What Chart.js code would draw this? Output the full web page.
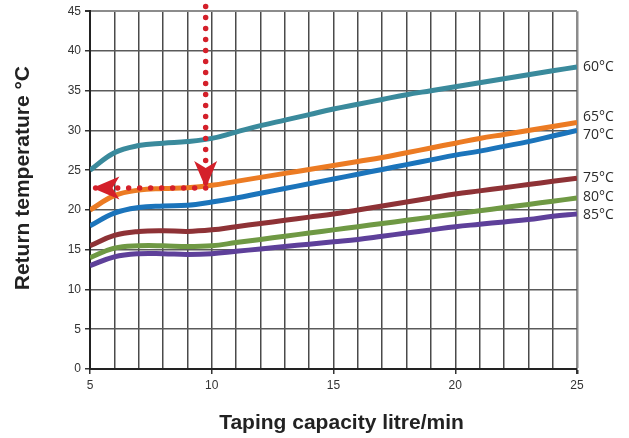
<!DOCTYPE html>
<html>
<head>
<meta charset="utf-8">
<script src="https://cdn.jsdelivr.net/npm/chart.js@4.4.1/dist/chart.umd.min.js"></script>
<style>
  html, body { margin: 0; padding: 0; background: #ffffff; }
  #wrap { width: 629px; height: 438px; }
</style>
</head>
<body>
<div id="wrap"><canvas id="chart" width="629" height="438"></canvas></div>
<script>
// Tapping capacity (litre/min) on the horizontal axis
const capacity = [5, 6, 7, 8, 9, 10, 11, 12, 13, 14, 15, 16, 17, 18, 19, 20, 21, 22, 23, 24, 25];

// Return temperature (°C) for each supply temperature curve
const ret60 = [25.0, 27.2, 28.1, 28.4, 28.6, 29.0, 29.8, 30.6, 31.3, 32.0, 32.7, 33.3, 33.9, 34.5, 35.0, 35.5, 36.0, 36.5, 37.0, 37.5, 38.0];
const ret65 = [20.0, 21.8, 22.5, 22.7, 22.8, 23.1, 23.6, 24.1, 24.6, 25.1, 25.6, 26.1, 26.6, 27.2, 27.8, 28.4, 29.0, 29.5, 30.0, 30.5, 31.0];
const ret70 = [18.0, 19.6, 20.3, 20.5, 20.6, 21.0, 21.5, 22.1, 22.7, 23.3, 23.9, 24.5, 25.1, 25.7, 26.3, 26.9, 27.4, 28.0, 28.6, 29.3, 30.0];
const ret75 = [15.5, 16.8, 17.3, 17.4, 17.3, 17.5, 17.9, 18.3, 18.7, 19.1, 19.5, 20.0, 20.5, 21.0, 21.5, 22.0, 22.4, 22.8, 23.2, 23.6, 24.0];
const ret80 = [14.0, 15.2, 15.5, 15.5, 15.4, 15.5, 15.9, 16.3, 16.7, 17.1, 17.5, 17.9, 18.3, 18.7, 19.1, 19.5, 19.9, 20.3, 20.7, 21.1, 21.5];
const ret85 = [13.0, 14.1, 14.5, 14.5, 14.4, 14.5, 14.8, 15.1, 15.4, 15.7, 16.0, 16.3, 16.7, 17.1, 17.5, 17.9, 18.2, 18.5, 18.8, 19.2, 19.5];

const curveLabels = ['60°C', '65°C', '70°C', '75°C', '80°C', '85°C'];
const curveValues = [ret60, ret65, ret70, ret75, ret80, ret85];
const curveColors = ['#3a8a9c', '#ec7b23', '#1b74bb', '#8e3236', '#6f9944', '#5e409a'];

// Reading example: 10 l/min down to the 65°C curve, then across to the axis
const readDownX = [9.75, 9.75];
const readDownY = [45.6, 22.75];
const readAcrossX = [9.75, 5.1];
const readAcrossY = [22.75, 22.75];

// Axis ranges and tick labels
const xTickLabels = [5, 10, 15, 20, 25];
const yTickLabels = [0, 5, 10, 15, 20, 25, 30, 35, 40, 45];

const axisTitleX = 'Taping capacity litre/min';
const axisTitleY = 'Return temperature °C';

const toPoints = (xs, ys) => xs.map((x, i) => ({ x: x, y: ys[i] }));

const guideColor = '#d4202a';
const guideSets = [
  { data: toPoints(readDownX, readDownY) },
  { data: toPoints(readAcrossX, readAcrossY) }
].map(g => Object.assign(g, {
  isGuide: true,
  borderColor: guideColor,
  borderWidth: 5.5,
  borderDash: [0, 11],
  borderCapStyle: 'round',
  pointRadius: 0,
  tension: 0,
  clip: false
}));

const curveSets = curveValues.map((vals, i) => ({
  label: curveLabels[i],
  data: toPoints(capacity, vals),
  borderColor: curveColors[i],
  borderWidth: 5,
  pointRadius: 0,
  tension: 0.4,
  borderCapStyle: 'butt'
}));

// Arrowheads at the end of each reading guide
const arrowPlugin = {
  id: 'arrowHeads',
  afterDatasetsDraw(chart) {
    const ctx = chart.ctx;
    chart.data.datasets.forEach((ds, i) => {
      if (!ds.isGuide) return;
      const pts = chart.getDatasetMeta(i).data;
      const tip = pts[pts.length - 1];
      const prev = pts[pts.length - 2];
      const ang = Math.atan2(tip.y - prev.y, tip.x - prev.x);
      const len = 27, half = 11.5, notch = 7;
      ctx.save();
      ctx.translate(tip.x, tip.y);
      ctx.rotate(ang);
      ctx.beginPath();
      ctx.moveTo(0, 0);
      ctx.lineTo(-len, -half);
      ctx.lineTo(-len + notch, 0);
      ctx.lineTo(-len, half);
      ctx.closePath();
      ctx.fillStyle = guideColor;
      ctx.fill();
      ctx.restore();
    });
  }
};

// Curve names at the right end of each line, spread apart where they crowd
const endLabelPlugin = {
  id: 'endLabels',
  afterDatasetsDraw(chart) {
    const ctx = chart.ctx;
    const items = [];
    chart.data.datasets.forEach((ds, i) => {
      if (ds.isGuide) return;
      const pts = chart.getDatasetMeta(i).data;
      items.push({ text: ds.label, y: pts[pts.length - 1].y });
    });
    items.sort((a, b) => a.y - b.y);
    const gap = 18;
    // group crowded labels and centre each group on its mean position
    let groups = items.map(it => ({ members: [it], center: it.y }));
    let merged = true;
    while (merged) {
      merged = false;
      for (let k = 0; k < groups.length - 1; k++) {
        const a = groups[k], b = groups[k + 1];
        const aBottom = a.center + (a.members.length - 1) * gap / 2;
        const bTop = b.center - (b.members.length - 1) * gap / 2;
        if (bTop - aBottom < gap) {
          const members = a.members.concat(b.members);
          const center = members.reduce((s, m) => s + m.y, 0) / members.length;
          groups.splice(k, 2, { members: members, center: center });
          merged = true;
          break;
        }
      }
    }
    ctx.save();
    ctx.font = '14px "Open Sans", "DejaVu Sans", sans-serif';
    ctx.fillStyle = '#2a2a2a';
    ctx.textAlign = 'left';
    ctx.textBaseline = 'middle';
    const x = chart.chartArea.right + 6;
    groups.forEach(g => {
      const start = g.center - (g.members.length - 1) * gap / 2;
      g.members.forEach((m, j) => ctx.fillText(m.text, x, start + j * gap));
    });
    ctx.restore();
  }
};

// Bold axis titles
const axisTitlePlugin = {
  id: 'axisTitles',
  afterDraw(chart) {
    const ctx = chart.ctx;
    const a = chart.chartArea;
    ctx.save();
    ctx.font = 'bold 21px "Liberation Sans", Arial, sans-serif';
    ctx.fillStyle = '#222222';
    ctx.textAlign = 'center';
    ctx.textBaseline = 'middle';
    ctx.fillText(axisTitleX, (a.left + a.right) / 2 + 8, 423);
    ctx.translate(23, (a.top + a.bottom) / 2 - 12);
    ctx.rotate(-Math.PI / 2);
    ctx.fillText(axisTitleY, 0, 0);
    ctx.restore();
  }
};

const tickFont = { family: '"Liberation Sans", Arial, sans-serif', size: 12 };

new Chart(document.getElementById('chart'), {
  type: 'line',
  data: { datasets: guideSets.concat(curveSets) },
  options: {
    responsive: false,
    animation: false,
    events: [],
    layout: { padding: { top: 10, right: 52, bottom: 0, left: 0 } },
    plugins: { legend: { display: false }, tooltip: { enabled: false } },
    scales: {
      x: {
        type: 'linear',
        min: xTickLabels[0],
        max: xTickLabels[xTickLabels.length - 1],
        afterFit(scale) { scale.height = 69; },
        ticks: {
          stepSize: 1,
          autoSkip: false,
          maxRotation: 0,
          padding: 4,
          color: '#333333',
          font: tickFont,
          callback: v => (xTickLabels.includes(v) ? String(v) : '')
        },
        grid: {
          color: c => (c.tick && c.tick.value === 25 ? '#8c8c8c' : '#4a4a4a'),
          lineWidth: c => (c.tick && c.tick.value === 25 ? 2.5 : 1.5),
          tickLength: 5,
          tickColor: c => (c.tick && xTickLabels.includes(c.tick.value) ? '#333333' : 'rgba(0,0,0,0)')
        },
        border: { color: '#222222', width: 2 }
      },
      y: {
        min: yTickLabels[0],
        max: yTickLabels[yTickLabels.length - 1],
        afterFit(scale) { scale.width = 90; },
        ticks: {
          stepSize: 5,
          padding: 4,
          color: '#333333',
          font: tickFont,
          callback: v => (yTickLabels.includes(v) ? String(v) : '')
        },
        grid: {
          color: c => (c.tick && c.tick.value === 45 ? '#8c8c8c' : '#5a5a5a'),
          lineWidth: c => (c.tick && c.tick.value === 45 ? 2 : 1.5),
          tickLength: 5,
          tickColor: '#333333'
        },
        border: { color: '#222222', width: 2 }
      }
    }
  },
  plugins: [arrowPlugin, endLabelPlugin, axisTitlePlugin]
});
</script>
</body>
</html>
